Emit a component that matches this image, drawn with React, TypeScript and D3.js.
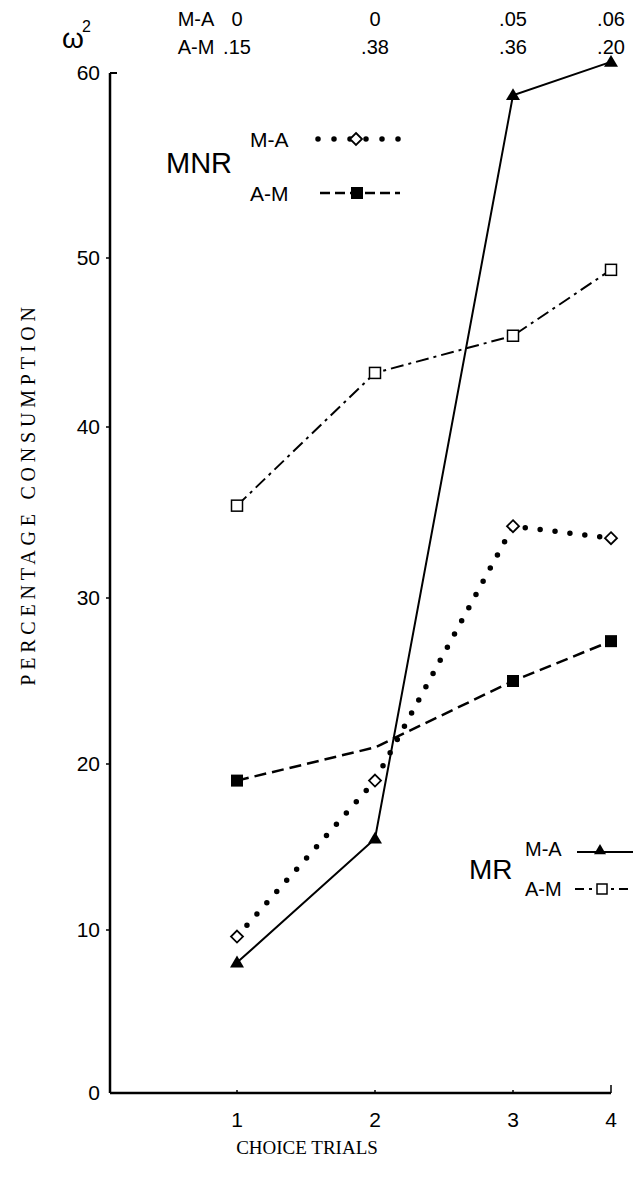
import React from "react";
import * as d3 from "d3";

const trials = [1, 2, 3, 4];
const xTickLabels = ["1", "2", "3", "4"];
const yTicks = [0, 10, 20, 30, 40, 50, 60];

// MR (solid / dash-dot) and MNR (dotted / dashed) series
const mrMA = [8.0, 15.5, 58.8, 60.6];
const mrAM = [35.4, 43.2, 45.4, 49.3];
const mnrMA = [9.6, 19.0, 34.2, 33.5];
const mnrAM = [19.0, 21.0, 25.0, 27.4];

const omegaRows = ["M-A", "A-M"];
const omegaMA = ["0", "0", ".05", ".06"];
const omegaAM = [".15", ".38", ".36", ".20"];

const SANS = "'Liberation Sans', Arial, sans-serif";
const SERIF = "'Liberation Serif', 'Times New Roman', serif";

export default function App() {
  const W = 633;
  const H = 1184;
  const x = d3.scaleLinear().domain([0, 1, 2, 3, 4]).range([110, 237, 375, 513, 611]);
  const y = d3.scaleLinear().domain(yTicks).range([1093, 930, 764, 598, 427, 258, 73]);
  const line = d3
    .line<number>()
    .x((_, i) => x(trials[i]))
    .y((d) => y(d));

  const tri = (cx: number, cy: number, s = 7) =>
    `M${cx},${cy - s}L${cx + s},${cy + s * 0.7}L${cx - s},${cy + s * 0.7}Z`;
  const diamond = (cx: number, cy: number, s = 6) =>
    `M${cx},${cy - s}L${cx + s},${cy}L${cx},${cy + s}L${cx - s},${cy}Z`;

  const axisX0 = x(0);
  const axisY0 = y(0);

  return (
    <svg
      width={W}
      height={H}
      style={{ display: "block", background: "#fff", position: "absolute", left: 0, top: 0 }}
    >
      <rect x={0} y={0} width={W} height={H} fill="#fff" />
      {/* omega^2 header */}
      <text x={62} y={48} fontFamily={SANS} fontSize={28} fill="#000">
        ω
      </text>
      <text x={82} y={32} fontFamily={SANS} fontSize={16} fill="#000">
        2
      </text>
      <text x={196} y={26} textAnchor="middle" fontFamily={SANS} fontSize={20} fill="#000">
        {omegaRows[0]}
      </text>
      <text x={196} y={54} textAnchor="middle" fontFamily={SANS} fontSize={20} fill="#000">
        {omegaRows[1]}
      </text>
      {trials.map((t, i) => (
        <g key={"om" + t}>
          <text x={x(t)} y={26} textAnchor="middle" fontFamily={SANS} fontSize={20} fill="#000">
            {omegaMA[i]}
          </text>
          <text x={x(t)} y={54} textAnchor="middle" fontFamily={SANS} fontSize={20} fill="#000">
            {omegaAM[i]}
          </text>
        </g>
      ))}

      {/* Y axis */}
      <line x1={axisX0} x2={axisX0} y1={y(60)} y2={axisY0} stroke="#000" strokeWidth={2.5} />
      <line x1={axisX0} x2={axisX0 + 7} y1={y(60)} y2={y(60)} stroke="#000" strokeWidth={2} />
      {yTicks.map((t) => (
        <g key={"yt" + t}>
          {t > 0 && t < 60 && (
            <line x1={axisX0 - 4} x2={axisX0} y1={y(t)} y2={y(t)} stroke="#000" strokeWidth={1.5} />
          )}
          <text
            x={axisX0 - 10}
            y={y(t) + 7}
            textAnchor="end"
            fontFamily={SANS}
            fontSize={21}
            fill="#000"
          >
            {t}
          </text>
        </g>
      ))}

      {/* X axis */}
      <line x1={axisX0} x2={x(4)} y1={axisY0} y2={axisY0} stroke="#000" strokeWidth={2.5} />
      {trials.map((t, i) => (
        <g key={"xt" + t}>
          <line
            x1={x(t)}
            x2={x(t)}
            y1={axisY0}
            y2={axisY0 - (t === 4 ? 8 : 3)}
            stroke="#000"
            strokeWidth={1.5}
          />
          <text x={x(t)} y={axisY0 + 34} textAnchor="middle" fontFamily={SANS} fontSize={21} fill="#000">
            {xTickLabels[i]}
          </text>
        </g>
      ))}

      {/* axis titles */}
      <text x={307} y={1154} textAnchor="middle" fontFamily={SERIF} fontSize={19} fill="#000">
        CHOICE TRIALS
      </text>
      <text
        transform={`translate(35,494) rotate(-90)`}
        textAnchor="middle"
        fontFamily={SERIF}
        fontSize={20}
        letterSpacing={4.8}
        fill="#000"
      >
        PERCENTAGE CONSUMPTION
      </text>

      {/* series lines */}
      <path d={line(mrAM) || ""} fill="none" stroke="#000" strokeWidth={2} strokeDasharray="13,5,3,5" />
      <path d={line(mnrAM) || ""} fill="none" stroke="#000" strokeWidth={2.5} strokeDasharray="12,6" />
      <path
        d={line(mnrMA) || ""}
        fill="none"
        stroke="#000"
        strokeWidth={5.5}
        strokeLinecap="round"
        strokeDasharray="0,15"
      />
      <path d={line(mrMA) || ""} fill="none" stroke="#000" strokeWidth={2} />

      {/* markers */}
      {mrAM.map((v, i) => (
        <rect
          key={"s" + i}
          x={x(trials[i]) - 5.5}
          y={y(v) - 5.5}
          width={11}
          height={11}
          fill="#fff"
          stroke="#000"
          strokeWidth={1.5}
        />
      ))}
      {mnrAM.map((v, i) =>
        i === 1 ? null : (
          <rect key={"f" + i} x={x(trials[i]) - 6} y={y(v) - 6} width={12} height={12} fill="#000" />
        )
      )}
      {mnrMA.map((v, i) => (
        <path key={"d" + i} d={diamond(x(trials[i]), y(v))} fill="#fff" stroke="#000" strokeWidth={1.8} />
      ))}
      {mrMA.map((v, i) => (
        <path key={"t" + i} d={tri(x(trials[i]), y(v))} fill="#000" />
      ))}

      {/* MNR legend */}
      <text x={166} y={173} fontFamily={SANS} fontSize={29} fill="#000">
        MNR
      </text>
      <text x={250} y={147} fontFamily={SANS} fontSize={21} fill="#000">
        M-A
      </text>
      <line x1={318} x2={402} y1={139} y2={139} stroke="#000" strokeWidth={5.5} strokeLinecap="round" strokeDasharray="0,16" />
      <path d={diamond(356, 139)} fill="#fff" stroke="#000" strokeWidth={1.8} />
      <text x={250} y={201} fontFamily={SANS} fontSize={21} fill="#000">
        A-M
      </text>
      <line x1={320} x2={400} y1={193} y2={193} stroke="#000" strokeWidth={2.5} strokeDasharray="10,5" />
      <rect x={351} y={187} width={12} height={12} fill="#000" />

      {/* MR legend */}
      <text x={469} y={879} fontFamily={SANS} fontSize={28} fill="#000">
        MR
      </text>
      <text x={525} y={856} fontFamily={SANS} fontSize={20} fill="#000">
        M-A
      </text>
      <line x1={577} x2={633} y1={852} y2={852} stroke="#000" strokeWidth={2} />
      <path d={tri(600, 850, 6)} fill="#000" />
      <text x={525} y={896} fontFamily={SANS} fontSize={20} fill="#000">
        A-M
      </text>
      <line x1={575} x2={633} y1={889} y2={889} stroke="#000" strokeWidth={2} strokeDasharray="9,5,3,5" />
      <rect x={597} y={884} width={10} height={10} fill="#fff" stroke="#000" strokeWidth={1.5} />
    </svg>
  );
}
